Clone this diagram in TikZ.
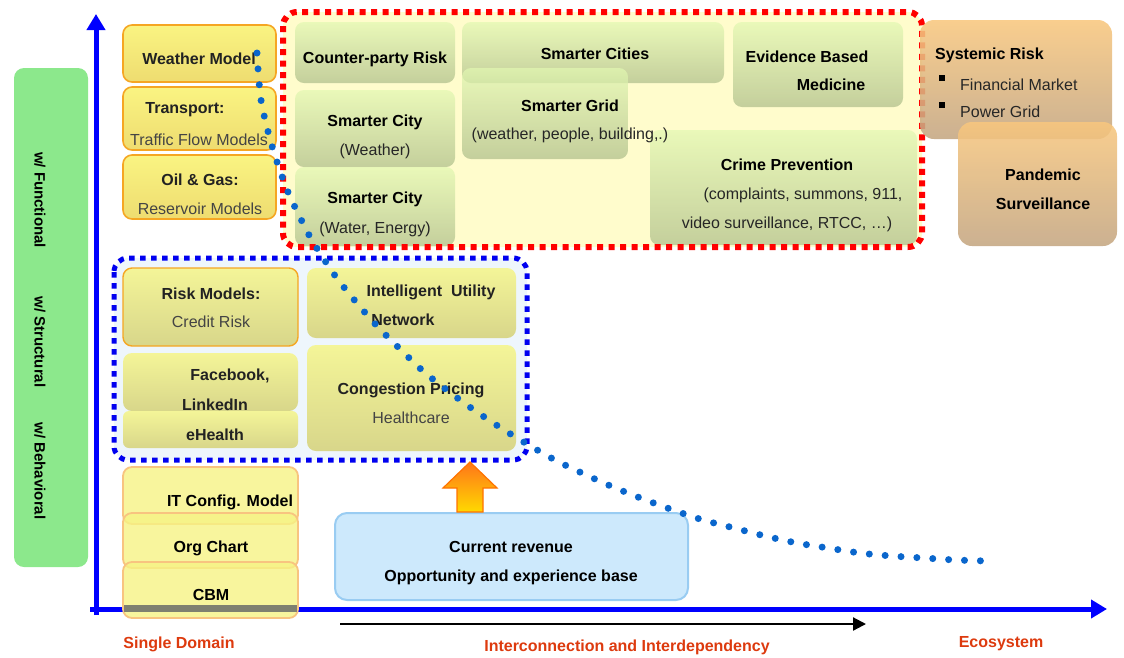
\documentclass[tikz,border=0pt]{standalone}
\usepackage{fontspec}
\setmainfont{Liberation Sans}
\usetikzlibrary{arrows.meta}
\definecolor{yTop}{HTML}{FAF482}
\definecolor{yBot}{HTML}{EEDC70}
\definecolor{oBord}{HTML}{F5A623}
\definecolor{gTop}{HTML}{E2F8B2}
\definecolor{gBot}{HTML}{AEBE8A}
\definecolor{iTop}{HTML}{F4F598}
\definecolor{iBot}{HTML}{D8D68A}
\definecolor{sTop}{HTML}{F8C77E}
\definecolor{sBot}{HTML}{C4A682}
\definecolor{redB}{HTML}{FF0000}
\definecolor{redFill}{HTML}{FFFCCC}
\definecolor{bluB}{HTML}{0000F0}
\definecolor{bluFill}{HTML}{EEF6FC}
\definecolor{axisB}{HTML}{0000FF}
\definecolor{dotB}{HTML}{0A66CC}
\definecolor{barG}{HTML}{8CE88C}
\definecolor{txt}{HTML}{222222}
\definecolor{subtxt}{HTML}{444444}
\definecolor{lab}{HTML}{DD3A0E}
\definecolor{crFill}{HTML}{CDE9FC}
\definecolor{crBord}{HTML}{99CCF2}
\definecolor{bTop}{HTML}{F6F384}
\definecolor{bBord}{HTML}{F8C480}
\definecolor{band}{HTML}{7F8070}
\begin{document}
\begin{tikzpicture}[x=1pt,y=-1pt,
  box/.style={rounded corners=9pt, inner sep=0pt},
  ybox/.style={box, top color=yTop, bottom color=yBot, draw=oBord, line width=1.6pt},
  gbox/.style={box, top color=gTop, bottom color=gBot, fill opacity=0.72},
  ibox/.style={box, top color=iTop, bottom color=iBot},
  sbox/.style={box, top color=sTop, bottom color=sBot, fill opacity=0.88},
  bbox/.style={box, fill=bTop, draw=bBord, line width=1.8pt, fill opacity=0.8},
  bt/.style={font=\fontsize{16}{29}\selectfont\bfseries, text=txt, align=center, inner sep=0pt, yshift=-2pt},
  st/.style={font=\fontsize{16}{29}\selectfont, text=subtxt, align=center, inner sep=0pt, yshift=-2pt},
  lb/.style={font=\fontsize{16}{18}\selectfont\bfseries, text=lab, inner sep=0pt},
  vt/.style={font=\fontsize{15}{16}\selectfont\bfseries, rotate=-90, inner sep=0pt},
  axis/.style={draw=axisB, line width=5pt, -{Triangle[length=16pt,width=18pt]}},
  dotc/.style={draw=dotB, line width=7pt, line cap=round, dash pattern=on 0pt off 15.9pt}
]
\useasboundingbox (0,0) rectangle (1124,657);

% left green bar
\node[box, fill=barG, minimum width=74pt, minimum height=499pt, rounded corners=10pt] (bar) at (51,317.5) {};
\node[vt] (vf) at (40,200) {w/ Functional};
\node[vt] (vs) at (40,342) {w/ Structural};
\node[vt] (vb) at (40,471) {w/ Behavioral};

% axes
\coordinate (o1) at (96,615);
\coordinate (ytop) at (96,14);
\coordinate (o2) at (90,609);
\coordinate (xend) at (1107,609);
\draw[axis] (o1) -- (ytop);
\draw[axis] (o2) -- (xend);

% top-left yellow boxes
\node[ybox, minimum width=153pt, minimum height=57pt] (wm) at (199.5,53.5) {};
\node[bt] (wmt) at (199,57) {Weather Model};
\node[ybox, minimum width=153pt, minimum height=63pt] (tr) at (199.5,118.5) {};
\node[bt] (trt) at (185,108) {Transport:};
\node[st] (trs) at (199,138) {Traffic Flow Models};
\node[ybox, minimum width=153pt, minimum height=64pt] (og) at (199.5,187) {};
\node[bt] (ogt) at (200,178) {Oil \& Gas:};
\node[st] (ogs) at (200,207) {Reservoir Models};

% red dashed region
\node[box, fill=redFill, minimum width=639pt, minimum height=235pt, rounded corners=14pt] (red) at (602.5,129.5) {};
\node[gbox, minimum width=160pt, minimum height=61pt] (cp) at (375,52.5) {};
\node[gbox, minimum width=160pt, minimum height=77pt] (sc1) at (375,128.5) {};
\node[gbox, minimum width=160pt, minimum height=79pt] (sc2) at (375,206.5) {};
\node[gbox, minimum width=262pt, minimum height=61pt] (scs) at (593,52.5) {};
\node[gbox, minimum width=166pt, minimum height=91pt] (sg) at (545,113.5) {};
\node[gbox, minimum width=170pt, minimum height=85pt] (ebm) at (818,64.5) {};
\node[gbox, minimum width=267pt, minimum height=115pt] (cr) at (783.5,187.5) {};
\draw[draw=redB, line width=6pt, dash pattern=on 6pt off 5.5pt, rounded corners=14pt] (283,12) rectangle (922,247);
\node[bt, text=black] (cpt) at (375,57) {Counter-party Risk};
\node[bt, text=black] (sc1t) at (375,120) {Smarter City};
\node[st, text=black!85] (sc1s) at (375,149) {(Weather)};
\node[bt, text=black] (sc2t) at (375,197) {Smarter City};
\node[st, text=black!85] (sc2s) at (375,227) {(Water, Energy)};
\node[bt, text=black] (scst) at (595,52) {Smarter Cities};
\node[bt, text=black] (ebm1) at (807,55) {Evidence Based};
\node[bt, text=black] (ebm2) at (831,83) {Medicine};
\node[bt, text=black] (sgt) at (570,104) {Smarter Grid};
\node[st, text=black!85] (sgs) at (570,133) {(weather, people, building,.)};
\node[bt, text=black] (crt) at (787,163) {Crime Prevention};
\node[st, text=black!85] (crs1) at (803,193) {(complaints, summons, 911,};
\node[st, text=black!85] (crs2) at (787,222) {video surveillance, RTCC, \dots)};

% systemic risk / pandemic
\node[sbox, minimum width=192pt, minimum height=119pt, rounded corners=14pt] (sr) at (1016,79.5) {};
\node[sbox, minimum width=159pt, minimum height=124pt, rounded corners=14pt] (ps) at (1037.5,184) {};
\node[bt, text=black, anchor=west] (srt) at (935,53) {Systemic Risk};
\node[fill=black, minimum size=6.5pt, inner sep=0pt] (b1) at (942,78) {};
\node[fill=black, minimum size=6.5pt, inner sep=0pt] (b2) at (942,105) {};
\node[st, text=black!85, anchor=west] (srs1) at (960,83) {Financial Market};
\node[st, text=black!85, anchor=west] (srs2) at (960,110) {Power Grid};
\node[bt, text=black] (pst1) at (1043,173) {Pandemic};
\node[bt, text=black] (pst2) at (1043,202) {Surveillance};

% blue dashed region
\node[box, fill=bluFill, minimum width=413pt, minimum height=202pt, rounded corners=14pt] (blu) at (320.5,359) {};
\draw[draw=bluB, line width=5pt, dash pattern=on 5.5pt off 5.5pt, rounded corners=14pt] (114,258) rectangle (527,460);
\node[ibox, draw=oBord, line width=1.4pt, minimum width=175pt, minimum height=78pt] (rm) at (210.5,307) {};
\node[ibox, minimum width=175pt, minimum height=58pt] (fb) at (210.5,382) {};
\node[ibox, minimum width=175pt, minimum height=37pt, rounded corners=6pt] (eh) at (210.5,429.5) {};
\node[ibox, minimum width=209pt, minimum height=70pt] (iu) at (411.5,303) {};
\node[ibox, minimum width=209pt, minimum height=106pt] (cg) at (411.5,398) {};
\node[bt] (rmt) at (211,292) {Risk Models:};
\node[st] (rms) at (211,320) {Credit Risk};
\node[bt] (iut) at (431,290) {Intelligent\ \ Utility};
\node[bt] (iut2) at (403,318) {Network};
\node[bt] (fbt) at (230,374) {Facebook,};
\node[bt] (fbt2) at (215,403) {LinkedIn};
\node[bt] (eht) at (215,433) {eHealth};
\node[bt] (cgt) at (411,388) {Congestion Pricing};
\node[st] (cgs) at (411,416) {Healthcare};

% bottom-left stack
\node[bbox, minimum width=175pt, minimum height=57pt] (itc) at (210.5,495.5) {};
\node[bbox, minimum width=175pt, minimum height=55pt] (orc) at (210.5,540.5) {};
\node[bbox, minimum width=175pt, minimum height=56pt] (cbm) at (210.5,590) {};
\fill[band] (124,605) rectangle (297,612);
\node[bt, text=black] (itct) at (230,500) {IT Config. Model};
\node[bt, text=black] (orct) at (211,546) {Org Chart};
\node[bt, text=black] (cbmt) at (211,593) {CBM};

% current revenue
\node[box, fill=crFill, draw=crBord, line width=2pt, rounded corners=12pt, minimum width=353pt, minimum height=87pt] (crv) at (511.5,556.5) {};
\node[bt, text=black] (crv1) at (511,545) {Current revenue};
\node[bt, text=black] (crv2) at (511,575) {Opportunity and experience base};

% orange up arrow
\shade[top color=orange!80!red!90, bottom color=yellow!70!orange, draw=orange!90!red, line width=1.2pt]
  (457,512) -- (457,488) -- (443,488) -- (470,462) -- (497,488) -- (483,488) -- (483,512) -- cycle;

% black arrow
\coordinate (ba1) at (340,624);
\coordinate (ba2) at (866,624);
\draw[line width=2.2pt, -{Triangle[length=13pt,width=13pt]}] (ba1) -- (ba2);

% bottom labels
\node[lb] (sd) at (179,644) {Single Domain};
\node[lb] (ii) at (627,647) {Interconnection and Interdependency};
\node[lb] (eco) at (1001,644) {Ecosystem};

% dotted curve
\draw[dotc] plot[smooth, tension=0.5] coordinates {(257,53) (261,100) (272,146) (288,192) (309,235) (318,250) (336,277) (356,302) (377,326) (400,349) (423,371) (448,391) (474,410) (501,428) (527,444) (555,460) (584,474) (613,487) (643,499) (673,510) (703,520) (734,528) (765,536) (797,543) (828,548) (860,553) (892,556) (924,558) (956,560) (988,561)};
\end{tikzpicture}
\end{document}
